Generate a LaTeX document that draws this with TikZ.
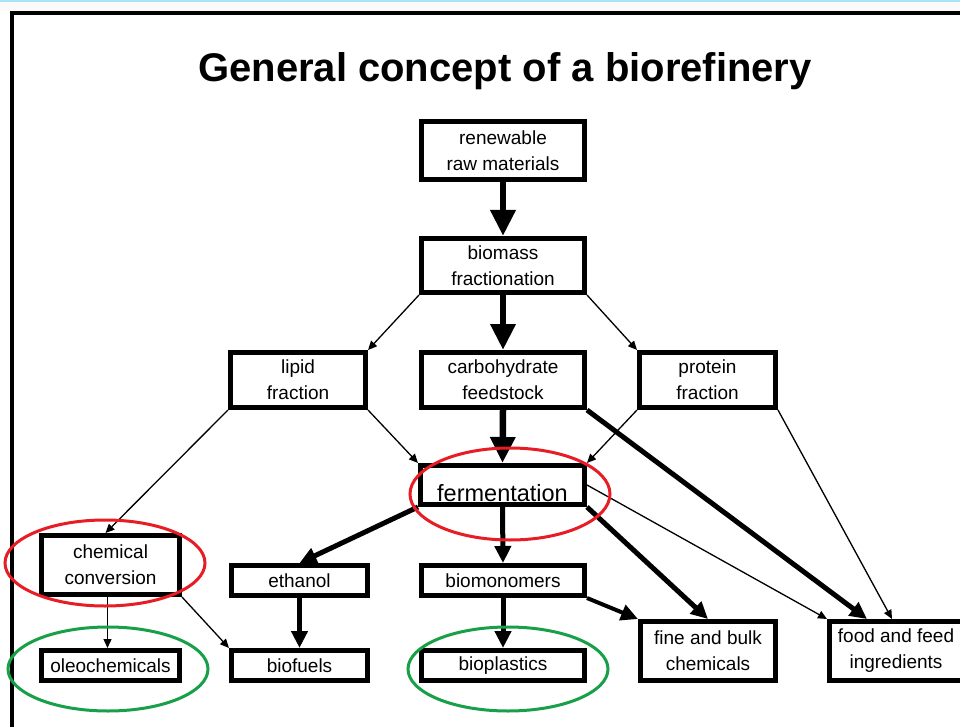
\documentclass[tikz,border=0pt]{standalone}
\usepackage{fontspec}
\setmainfont{Liberation Sans}
\usetikzlibrary{arrows.meta}
\definecolor{ringred}{RGB}{232,28,36}
\definecolor{ringgreen}{RGB}{24,160,72}
\definecolor{topline}{RGB}{168,228,248}
\begin{document}
\begin{tikzpicture}[x=1pt, y=-1pt,
		box/.style={rectangle,draw=black,line width=5pt,fill=white,inner sep=0pt,align=center,
			font=\fontsize{19}{26}\selectfont},
		major/.style={line width=6.5pt,-{Triangle[length=26pt,width=24pt]}},
		medium/.style={line width=5pt,-{Triangle[length=17pt,width=16pt]}},
		minor/.style={line width=1.3pt,-{Triangle[length=9pt,width=8pt]}},
		ring/.style={line width=3pt}
		]
	\clip (0,0) rectangle (960,727);
	\fill[white] (0,0) rectangle (960,727);
	\fill[black!2] (0,0) rectangle (960,11);
	\draw[topline,line width=2pt] (0,1) -- (960,1);
	\draw[line width=4pt] (12,760) -- (12,13) -- (990,13);

	\node [anchor=base,font=\bfseries\fontsize{40}{40}\selectfont] (title) at (505,82) {General concept of a biorefinery};

	\node [box,minimum width=163pt,minimum height=58pt] (raw) at (503,150.5) {renewable\\raw materials};
	\node [box,minimum width=163pt,minimum height=54pt] (frac) at (503,265.5) {biomass\\fractionation};
	\node [box,minimum width=135pt,minimum height=55pt] (lipid) at (298,380) {lipid\\fraction};
	\node [box,minimum width=163pt,minimum height=55pt] (carb) at (503,380) {carbohydrate\\feedstock};
	\node [box,minimum width=136pt,minimum height=55pt] (protein) at (707.5,380) {protein\\fraction};
	\node [box,minimum width=164pt,minimum height=39pt,font=\fontsize{23.5}{26}\selectfont] (ferm) at (502.5,485)
		{\raisebox{-16pt}[0pt][0pt]{fermentation}};
	\node [box,minimum width=138pt,minimum height=59pt] (chem) at (110.5,565) {chemical\\conversion};
	\node [box,minimum width=136pt,minimum height=30pt] (ethanol) at (299.5,580.5) {ethanol};
	\node [box,minimum width=163pt,minimum height=30pt] (mono) at (503,580.5) {biomonomers};
	\node [box,minimum width=135pt,minimum height=59pt] (fine) at (708,651) {fine and bulk\\chemicals};
	\node [box,minimum width=133pt,minimum height=59pt] (food) at (896,651) {food and feed\\ingredients};
	\node [box,minimum width=138pt,minimum height=30pt] (oleo) at (110.5,665.5) {oleochemicals};
	\node [box,minimum width=136pt,minimum height=30pt] (fuels) at (299.5,665.5) {biofuels};
	\node [box,minimum width=163pt,minimum height=30pt] (plastics) at (503,665.5) {bioplastics};

	\draw [major] (raw.south) -- (frac.north);
	\draw [major] (frac.south) -- (carb.north);
	\draw [major] (carb.south) -- (ferm.north);
	\draw [minor] (frac.south west) -- (lipid.north east);
	\draw [minor] (frac.south east) -- (protein.north west);
	\draw [minor] (lipid.south east) -- (ferm.north west);
	\draw [minor] (protein.south west) -- (ferm.north east);
	\draw [minor] (lipid.south west) -- ([xshift=-5pt]chem.north);
	\draw [minor] (protein.south east) -- ([xshift=-4pt]food.north);
	\draw [minor] (ferm.east) -- (food.north west);
	\draw [medium] (carb.south east) -- ([xshift=-29pt]food.north);
	\draw [medium] (ferm.south west) -- (ethanol.north);
	\draw [medium] (ferm.south) -- (mono.north);
	\draw [medium] (ferm.south east) -- (fine.north);
	\draw [medium,line width=4pt] (mono.south east) -- (fine.north west);
	\draw [medium] (ethanol.south) -- (fuels.north);
	\draw [medium] (mono.south) -- (plastics.north);
	\draw [minor] ([xshift=-3pt]chem.south) -- ([xshift=-3pt]oleo.north);
	\draw [minor] (chem.south east) -- (fuels.north west);

	\draw [ring,ringred] (510,494) ellipse [x radius=100, y radius=46];
	\draw [ring,ringred] (105,563) ellipse [x radius=100, y radius=43];
	\draw [ring,ringgreen] (108,669) ellipse [x radius=100, y radius=42];
	\draw [ring,ringgreen] (508,669) ellipse [x radius=100, y radius=42];
\end{tikzpicture}
\end{document}
